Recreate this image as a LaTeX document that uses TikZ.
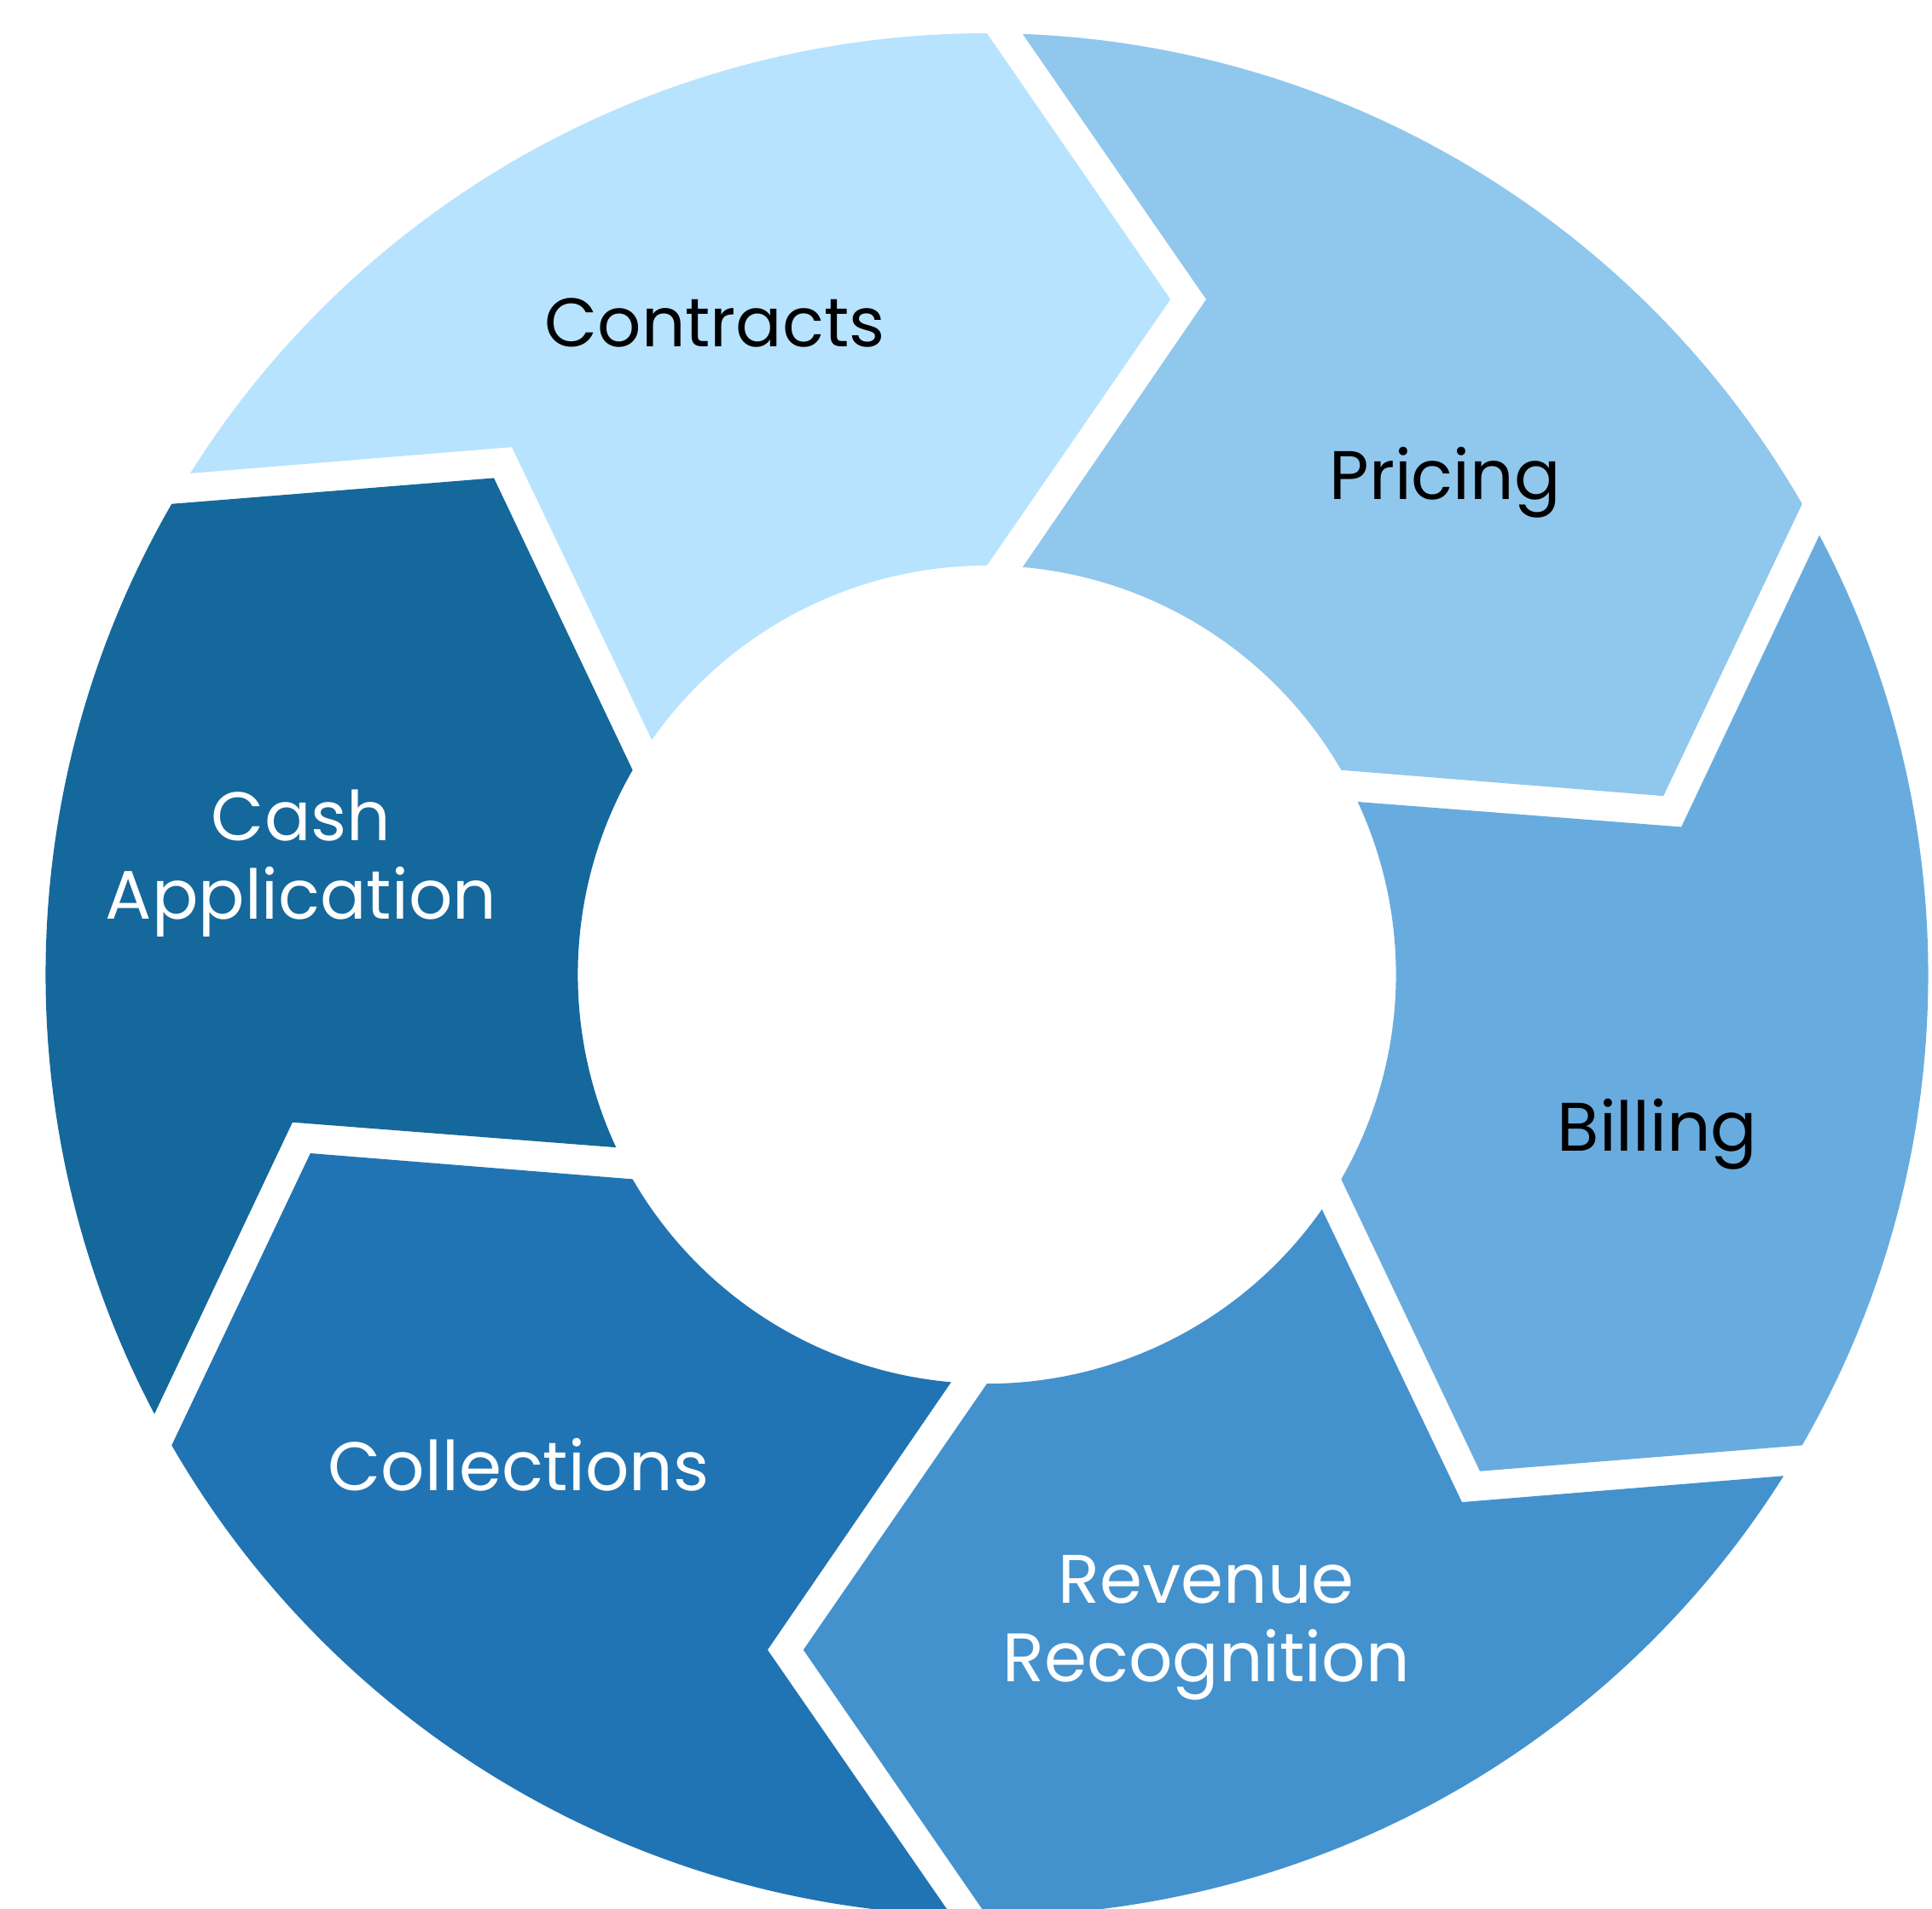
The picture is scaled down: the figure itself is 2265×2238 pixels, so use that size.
\documentclass[tikz,border=0pt]{standalone}
\usepackage{fontspec}
\setmainfont{Poppins}

\definecolor{contractsblue}{HTML}{B7E3FE}
\definecolor{pricingblue}{HTML}{90C7ED}
\definecolor{billingblue}{HTML}{68ACDF}
\definecolor{revenueblue}{HTML}{4392CE}
\definecolor{collectblue}{HTML}{2174B3}
\definecolor{cashblue}{HTML}{14689C}

% ring sizes
\newcommand{\ringout}{1103.6}
\newcommand{\ringin}{479.6}
\newcommand{\ringmid}{791.6}
\newcommand{\tipoff}{215.2}
\newcommand{\gapoff}{41.9}

\tikzset{label/.style={font=\fontsize{22.9}{26.2}\selectfont, align=center, anchor=base, text=black},
label light/.style={label, text=white}
}

\begin{document}
\begin{tikzpicture}[x=0.01cm, y=0.01cm]
    \useasboundingbox (0,0) rectangle (2265,2238);
    \coordinate (hub) at (1157,1095.4);
    % Segments
    \foreach \turn/\segcolor in {0/contractsblue, -60/pricingblue, -120/billingblue, -180/revenueblue, -240/collectblue, 60/cashblue}{
      \begin{scope}[shift={(hub)}, rotate=\turn]
        \fill[\segcolor] (90:\ringout) -- (\tipoff,\ringmid) -- (90:\ringin)
          arc[start angle=90, end angle={150-asin(\gapoff/\ringin)}, radius=\ringin]
          -- ([rotate=60]{\tipoff+\gapoff},\ringmid)
          -- ({150-asin(\gapoff/\ringout)}:\ringout)
          arc[start angle={150-asin(\gapoff/\ringout)}, end angle=90, radius=\ringout]
          -- cycle;
      \end{scope}
    }
    % Labels (two-line ones sit on their last baseline)
    \node [label] (contracts) at (838,1831) {Contracts};
    \node [label] (pricing) at (1694,1652) {Pricing};
    \node [label] (billing) at (1943,888) {Billing};
    \node [label light] (revenue) at (1414,266) {Revenue\\Recognition};
    \node [label light] (collections) at (608,490) {Collections};
    \node [label light] (cash) at (353,1160) {Cash\\Application};
\end{tikzpicture}
\end{document}
